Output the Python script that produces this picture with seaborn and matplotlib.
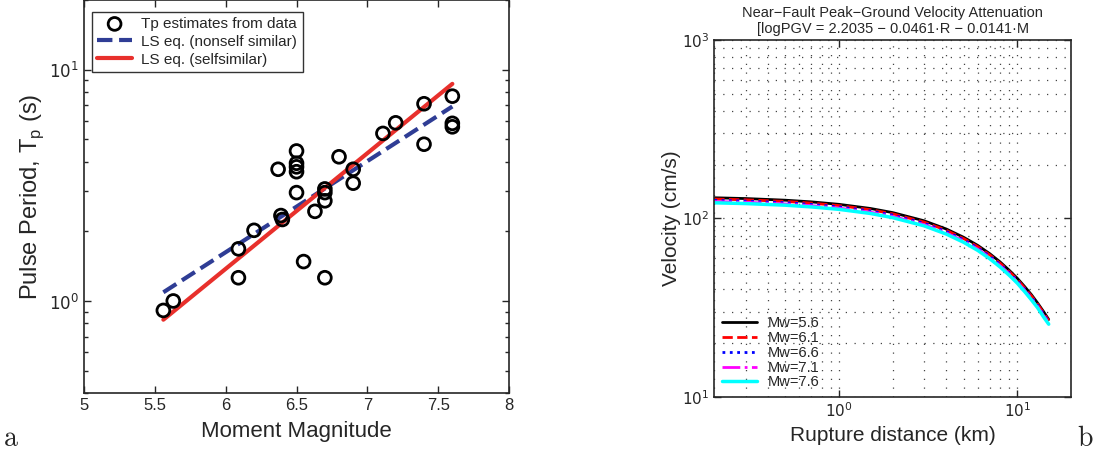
import numpy as np
import pandas as pd
import matplotlib
matplotlib.use('Agg')
import matplotlib.pyplot as plt
import seaborn as sns
from matplotlib.ticker import LogLocator, FixedLocator, NullFormatter

# ---- panel a: pulse period vs moment magnitude ----
mag = [5.56, 5.63, 6.09, 6.09, 6.2, 6.37, 6.39, 6.4, 6.5, 6.5, 6.5, 6.5, 6.5,
       6.55, 6.63, 6.7, 6.7, 6.7, 6.7, 6.8, 6.9, 6.9, 7.11, 7.2, 7.4, 7.4,
       7.6, 7.6, 7.6]
tp = [0.91, 1.0, 1.68, 1.26, 2.02, 3.71, 2.34, 2.25, 4.45, 3.94, 3.8, 3.62, 2.94,
      1.48, 2.44, 3.05, 2.94, 2.71, 1.26, 4.2, 3.71, 3.23, 5.3, 5.89, 7.12, 4.76,
      7.68, 5.86, 5.66]

fit_mag = [5.56, 7.6]
fit_nonself = [1.09, 6.93]
fit_self = [0.83, 8.68]

# ---- panel b: PGV attenuation curves ----
rup_dist = [0.2, 0.3, 0.5, 0.7, 1, 1.5, 2, 3, 4, 5, 6, 7, 8, 9, 10, 11, 12, 13, 14, 15]
pgv_56 = [130.4, 129.1, 126.4, 123.7, 119.8, 113.6, 107.7, 96.9, 87.1, 78.3,
          70.5, 63.4, 57.0, 51.2, 46.1, 41.4, 37.3, 33.5, 30.1, 27.1]
pgv_61 = [128.3, 127.0, 124.4, 121.7, 117.9, 111.8, 106.0, 95.3, 85.7, 77.0,
          69.4, 62.4, 56.1, 50.4, 45.4, 40.7, 36.7, 33.0, 29.6, 26.7]
pgv_66 = [126.2, 125.0, 122.4, 119.7, 116.0, 110.0, 104.3, 93.8, 84.3, 75.8,
          68.3, 61.4, 55.2, 49.6, 44.7, 40.0, 36.1, 32.5, 29.1, 26.3]
pgv_71 = [124.2, 123.0, 120.4, 117.8, 114.1, 108.2, 102.6, 92.3, 82.9, 74.6,
          67.2, 60.4, 54.3, 48.8, 44.0, 39.4, 35.5, 32.0, 28.6, 25.9]
pgv_76 = [122.2, 121.0, 118.5, 115.9, 112.3, 106.5, 100.9, 90.8, 81.6, 73.4,
          66.1, 59.4, 53.4, 48.0, 43.3, 38.8, 34.9, 31.5, 28.1, 25.5]
mw_labels = ['Mw=5.6', 'Mw=6.1', 'Mw=6.6', 'Mw=7.1', 'Mw=7.6']

sns.set_style('ticks')
plt.rcParams['font.family'] = ['Liberation Sans', 'DejaVu Sans']
plt.rcParams['xtick.direction'] = 'in'
plt.rcParams['ytick.direction'] = 'in'

fig = plt.figure(figsize=(10.97, 4.57), dpi=100)
ax1 = fig.add_axes([0.0766, 0.140, 0.3874, 0.860])
ax2 = fig.add_axes([0.6511, 0.132, 0.3252, 0.7805])

# panel a
sns.scatterplot(x=mag, y=tp, ax=ax1, marker='o', s=85, facecolor='none',
                edgecolor='black', linewidth=2, label='Tp estimates from data', zorder=3)
sns.lineplot(x=fit_mag, y=fit_nonself, ax=ax1, color='#2f3d95', linestyle='--',
             linewidth=3, dashes=(3, 2.2), label='LS eq. (nonself similar)')
sns.lineplot(x=fit_mag, y=fit_self, ax=ax1, color='#e8302c', linewidth=3,
             label='LS eq. (selfsimilar)')
ax1.set_yscale('log')
ax1.set_xlim(5, 8)
ax1.set_ylim(0.4, 20)
ax1.set_xticks([5, 5.5, 6, 6.5, 7, 7.5, 8])
ax1.set_xticklabels(['5', '5.5', '6', '6.5', '7', '7.5', '8'])
ax1.yaxis.set_major_locator(FixedLocator([1, 10]))
ax1.set_yticklabels([r'$10^0$', r'$10^1$'])
ax1.yaxis.set_minor_locator(LogLocator(base=10, subs=np.arange(2, 10)))
ax1.yaxis.set_minor_formatter(NullFormatter())
ax1.tick_params(which='both', top=True, right=True, labelsize=12, width=1)
ax1.tick_params(which='major', length=5)
ax1.tick_params(which='minor', length=3)
for sp in ax1.spines.values():
    sp.set_linewidth(1.2)
    sp.set_visible(True)
ax1.set_xlabel('Moment Magnitude', fontsize=16, labelpad=6)
ax1.set_ylabel(r'Pulse Period, T$_\mathregular{p}$ (s)', fontsize=17, labelpad=2)
leg = ax1.legend(loc='upper left', bbox_to_anchor=(0.0, 0.99), fontsize=11,
                 frameon=True, fancybox=False, edgecolor='black', handlelength=2.3,
                 borderpad=0.35, labelspacing=0.25, borderaxespad=0.5,
                 handletextpad=0.6)
leg.get_frame().set_linewidth(1.0)

# panel b
styles = [('black', '-', 2.0), ('red', '--', 2.0), ('blue', ':', 2.0),
          ('magenta', '-.', 2.0), ('cyan', '-', 2.5)]
for vals, lab, (c, ls, lw) in zip([pgv_56, pgv_61, pgv_66, pgv_71, pgv_76], mw_labels, styles):
    sns.lineplot(x=rup_dist, y=vals, ax=ax2, color=c, linestyle=ls, linewidth=lw,
                 label=lab, estimator=None, sort=False)
ax2.set_xscale('log')
ax2.set_yscale('log')
ax2.set_xlim(0.2, 20)
ax2.set_ylim(10, 1000)
ax2.xaxis.set_major_locator(FixedLocator([1, 10]))
ax2.set_xticklabels([r'$10^0$', r'$10^1$'])
ax2.yaxis.set_major_locator(FixedLocator([10, 100, 1000]))
ax2.set_yticklabels([r'$10^1$', r'$10^2$', r'$10^3$'])
for axis in (ax2.xaxis, ax2.yaxis):
    axis.set_minor_locator(LogLocator(base=10, subs=np.arange(2, 10)))
    axis.set_minor_formatter(NullFormatter())
ax2.grid(True, which='both', linestyle=(0, (1, 6)), color='#444444', linewidth=0.9)
ax2.tick_params(which='both', top=True, right=True, labelsize=11, width=1)
ax2.tick_params(which='major', length=5)
ax2.tick_params(which='minor', length=0)
for sp in ax2.spines.values():
    sp.set_linewidth(1.2)
    sp.set_visible(True)
ax2.set_xlabel('Rupture distance (km)', fontsize=15, labelpad=4)
ax2.set_ylabel('Velocity (cm/s)', fontsize=15, labelpad=1)
ax2.set_title('Near\u2212Fault Peak\u2212Ground Velocity Attenuation\n'
              '[logPGV = 2.2035 \u2212 0.0461\u00b7R \u2212 0.0141\u00b7M',
              fontsize=10.5, linespacing=1.15, pad=5)
ax2.legend(loc='lower left', fontsize=10.5, frameon=False, handlelength=2.4,
           labelspacing=0.05, borderaxespad=0.3, borderpad=0.2)

fig.text(0.003, 0.025, r'$\mathrm{a}$', fontsize=20, math_fontfamily='cm')
fig.text(0.982, 0.025, r'$\mathrm{b}$', fontsize=20, math_fontfamily='cm')

fig.savefig('out.png', dpi=100)
